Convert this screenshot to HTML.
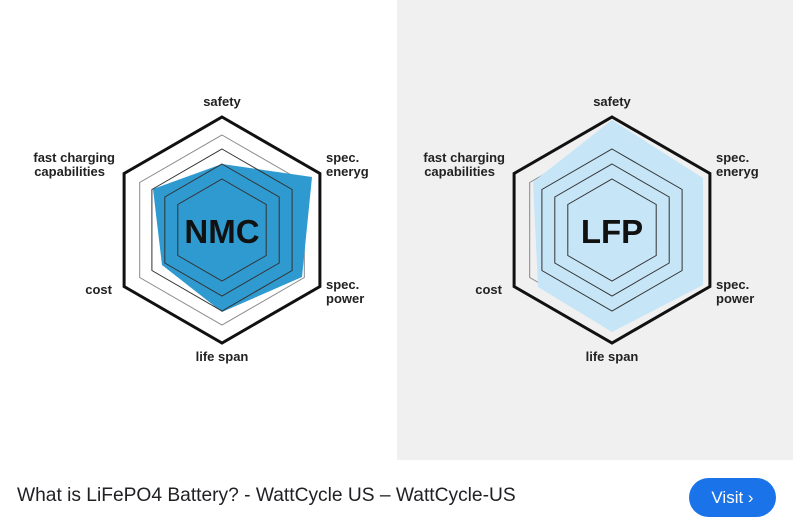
<!DOCTYPE html>
<html><head><meta charset="utf-8"><style>
html,body{margin:0;padding:0;width:800px;height:522px;overflow:hidden;background:#fff;font-family:"Liberation Sans",sans-serif}
.cap{position:absolute;left:17px;top:485px;font-size:19.2px;color:#202124}
.btn{position:absolute;left:689px;top:478px;width:87px;height:39px;border-radius:20px;background:#1a73e8;color:#fff;font-size:17px;line-height:39px;text-align:center}
</style></head><body>
<svg width="800" height="522" style="position:absolute;left:0;top:0" font-family="Liberation Sans, sans-serif">
<rect x="397" y="0" width="396" height="460" fill="#f0f0f0"/>
<defs>
<g id="hex">
<polygon points="222,135 304.3,182.5 304.3,277.5 222,325 139.7,277.5 139.7,182.5" fill="none" stroke="#888" stroke-width="1"/>
</g>
<g id="lines">
<polygon points="222,149 292.1,189.5 292.1,270.5 222,311 151.9,270.5 151.9,189.5" fill="none" stroke="#333" stroke-width="1"/>
<polygon points="222,164 279.2,197 279.2,263 222,296 164.8,263 164.8,197" fill="none" stroke="#333" stroke-width="1"/>
<polygon points="222,179 266.2,204.5 266.2,255.5 222,281 177.8,255.5 177.8,204.5" fill="none" stroke="#333" stroke-width="1"/>
<polygon points="222,117 319.9,173.5 319.9,286.5 222,343 124.1,286.5 124.1,173.5" fill="none" stroke="#111" stroke-width="3"/>
</g>
<g id="labels" font-weight="bold" font-size="13" fill="#222">
<text x="222" y="106" text-anchor="middle">safety</text>
<text x="115" y="162" text-anchor="end">fast charging</text>
<text x="105" y="176" text-anchor="end">capabilities</text>
<text x="326" y="162">spec.</text>
<text x="326" y="176">eneryg</text>
<text x="112" y="294" text-anchor="end">cost</text>
<text x="326" y="289">spec.</text>
<text x="326" y="303">power</text>
<text x="222" y="361" text-anchor="middle">life span</text>
</g>
</defs>
<use href="#hex"/>
<polygon points="222,164 312,177 302,277 222,312 162,265 153,189" fill="#2f9ad0"/>
<use href="#lines"/>
<use href="#labels"/>
<text x="222" y="243" text-anchor="middle" font-weight="bold" font-size="33" fill="#111">NMC</text>
<g transform="translate(390,0)">
<use href="#hex"/>
<polygon points="222,120 313,178 313,285 222,332 148,287 143,182" fill="#c6e6f8"/>
<use href="#lines"/>
<use href="#labels"/>
<text x="222" y="243" text-anchor="middle" font-weight="bold" font-size="33" fill="#111">LFP</text>
</g>
</svg>
<div class="cap">What is LiFePO4 Battery? - WattCycle US – WattCycle-US</div>
<div class="btn">Visit ›</div>
</body></html>
